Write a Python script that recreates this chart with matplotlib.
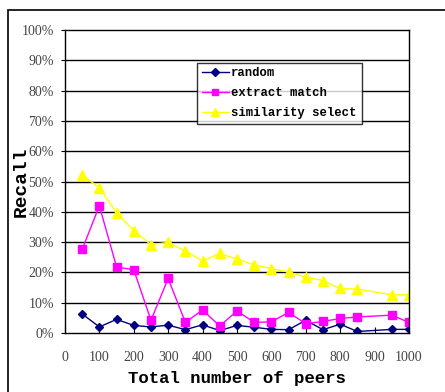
import numpy as np
import matplotlib.pyplot as plt
from matplotlib.patches import Rectangle
from matplotlib.ticker import PercentFormatter

# --- Data (recall in %) ---
peers = [50, 100, 150, 200, 250, 300, 350, 400, 450, 500,
         550, 600, 650, 700, 750, 800, 850, 950, 1000]
random_sel = [6.3, 2.0, 4.5, 2.5, 2.0, 2.6, 1.1, 2.7, 0.8, 2.5,
              1.9, 1.2, 1.1, 4.2, 1.1, 2.9, 0.5, 1.2, 1.2]
extract_match = [27.6, 42.0, 21.8, 20.9, 4.2, 18.0, 3.5, 7.6, 2.3, 7.3,
                 3.5, 3.7, 6.8, 3.1, 3.8, 4.8, 5.3, 5.9, 3.5]
similarity_select = [52.1, 48.0, 39.7, 33.8, 29.2, 29.9, 27.1, 23.8, 26.3, 24.4,
                     22.5, 21.3, 20.1, 18.5, 17.3, 14.7, 14.5, 12.6, 12.6]

x_ticks = [0, 100, 200, 300, 400, 500, 600, 700, 800, 900, 1000]
y_ticks = [0, 10, 20, 30, 40, 50, 60, 70, 80, 90, 100]

fig = plt.figure(figsize=(4.45, 3.92), dpi=100)
ax = fig.add_axes([0.146, 0.1505, 0.773, 0.7725])

# outer chart frame (cut off at right and bottom)
fig.patches.append(Rectangle((8 / 445, -0.05), 1.0, 1 - 10 / 392 + 0.05,
                             transform=fig.transFigure, fill=False,
                             edgecolor='black', lw=1.2))

ax.set_xlim(0, 1000)
ax.set_ylim(0, 100)
for y in y_ticks[1:-1]:
    ax.axhline(y, color='black', lw=1, zorder=0)

ax.plot(peers, random_sel, color='#000080', marker='D', ms=4.5, lw=1,
        label='random')
ax.plot(peers, extract_match, color='#FF00FF', marker='s', ms=5.5, lw=1,
        label='extract match')
ax.plot(peers, similarity_select, color='#FFFF00', marker='^', ms=6.5, lw=1,
        label='similarity select')

ax.set_xticks(x_ticks)
ax.set_yticks(y_ticks)
ax.yaxis.set_major_formatter(PercentFormatter(decimals=0))
ax.tick_params(axis='x', labelsize=10, labelcolor='#444444',
               length=4, direction='in', pad=13)
ax.tick_params(axis='y', labelsize=10, labelcolor='#444444',
               length=3, direction='out', pad=5)
for lab in ax.get_xticklabels() + ax.get_yticklabels():
    lab.set_family('Liberation Serif')
for s in ax.spines.values():
    s.set_color('black')
    s.set_linewidth(1)

ax.set_xlabel('Total number of peers', family='Liberation Mono',
              fontweight='bold', fontsize=12.5, labelpad=5)
ax.set_ylabel('Recall', family='Liberation Mono', fontweight='bold',
              fontsize=14)
ax.yaxis.set_label_coords(-0.102, 0.5)

leg = ax.legend(loc='upper left', bbox_to_anchor=(0.384, 0.893),
                prop={'family': 'Liberation Mono', 'weight': 'bold', 'size': 8.8},
                frameon=True, fancybox=False, edgecolor='black',
                borderpad=0.4, labelspacing=0.65, handlelength=2.2,
                handletextpad=0.2, borderaxespad=0, markerscale=0.8)
leg.get_frame().set_linewidth(1)

plt.savefig('out.png', dpi=100)
